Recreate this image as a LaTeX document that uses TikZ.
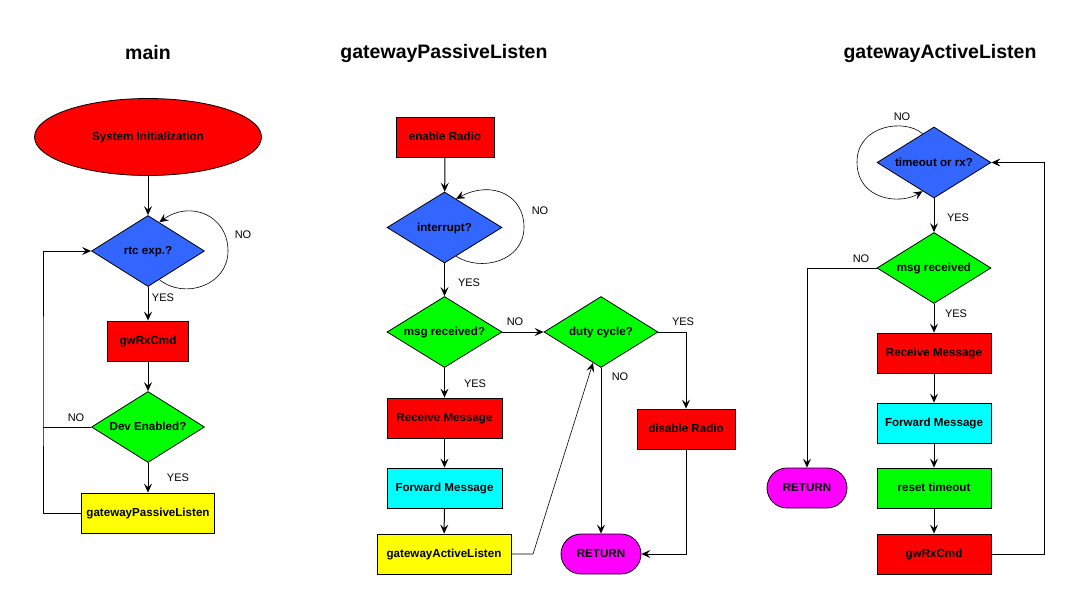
\documentclass[tikz,border=0pt]{standalone}
\usepackage{fontspec}
\setmainfont{Liberation Sans}
\usetikzlibrary{shapes.geometric,arrows.meta,calc}
\definecolor{fcred}{HTML}{FF0000}
\definecolor{fcblue}{HTML}{3366FF}
\definecolor{fcgreen}{HTML}{00FF00}
\definecolor{fccyan}{HTML}{00FFFF}
\definecolor{fcyellow}{HTML}{FFFF00}
\definecolor{fcpink}{HTML}{FF00FF}
\begin{document}
\begin{tikzpicture}[x=1pt, y=-1pt,
    txt/.style={font=\bfseries\fontsize{11.6}{13}\selectfont, text height=8.5pt, text depth=1.5pt},
    box/.style={draw, txt, line width=0.8pt, inner sep=0pt, minimum width=#1, minimum height=40pt},
    box/.default=115pt,
    decision/.style={diamond, draw, txt, line width=0.8pt, inner sep=0pt, aspect=1.6, minimum width=114pt, minimum height=71pt},
    pill/.style={draw, txt, line width=0.8pt, fill=fcpink, rounded corners=20pt, minimum width=80pt, minimum height=40pt},
    lbl/.style={font=\fontsize{11}{13}\selectfont},
    ttl/.style={font=\bfseries\fontsize{19.5}{22}\selectfont},
    flow/.style={line width=1pt, -{Stealth[length=9pt, width=8pt, inset=3.5pt]}},
    selfloop/.style={line width=0.6pt, -{Stealth[length=9pt, width=8pt, inset=3.5pt]}}]
    \fill[white] (0, 0) rectangle (1089, 590);
    % main
    \draw (148, 53) node (tmain) [ttl] {main}
          (148, 137) node (init) [ellipse, draw, txt, line width=0.8pt, fill=fcred, minimum width=227pt, minimum height=77pt] {System Initialization}
          (148, 251) node (rtc) [decision, fill=fcblue, minimum width=113pt] {rtc exp.?}
          (148, 341) node (gw) [box=81pt, fill=fcred] {gwRxCmd}
          (148, 427) node (dev) [decision, fill=fcgreen, minimum width=113pt] {Dev Enabled?}
          (148, 513) node (gpl) [box=133pt, fill=fcyellow] {gatewayPassiveListen};
    \coordinate (mbus) at (43, 380);
    \draw[flow] (init) edge (rtc)
                (rtc) edge (gw)
                (gw) edge (dev)
                (dev) edge (gpl);
    \draw[flow] (gpl.west) -| (mbus) |- (rtc.west);
    \draw[line width=1pt] (dev.west) -- (dev.west -| mbus);
    \draw[selfloop] ($(rtc.south)!.2!(rtc.east)$) .. controls (185, 300) and (228, 285) .. (228, 251)
                    .. controls (228, 215) and (190, 200) .. ($(rtc.north)!.2!(rtc.east)$);
    \draw (243, 235) node (lrtcno) [lbl] {NO}
          (163, 298) node (lrtcyes) [lbl] {YES}
          (76, 418) node (ldevno) [lbl] {NO}
          (178, 478) node (ldevyes) [lbl] {YES};
    % gatewayPassiveListen
    \draw (444, 53) node (tpass) [ttl] {gatewayPassiveListen}
          (445, 137) node (enr) [box=98pt, fill=fcred] {enable Radio}
          (444.5, 227.5) node (intr) [decision, fill=fcblue, minimum width=115pt] {interrupt?}
          (444.5, 332) node (mrx) [decision, fill=fcgreen, minimum width=115pt] {msg received?}
          (601, 332) node (duty) [decision, fill=fcgreen] {duty cycle?}
          (444.5, 418) node (rcv) [box, fill=fcred] {Receive Message}
          (444.5, 488) node (fwd) [box, fill=fccyan] {Forward Message}
          (444, 554) node (gal) [box=134pt, fill=fcyellow] {gatewayActiveListen}
          (686, 429) node (dis) [box=98pt, fill=fcred] {disable Radio}
          (601, 554) node (ret) [pill] {RETURN};
    \coordinate (pbend) at (533, 554);
    \draw[flow] (enr) edge (intr)
                (intr) edge (mrx)
                (mrx) edge (rcv)
                (rcv) edge (fwd)
                (fwd) edge (gal)
                (mrx) edge (duty)
                (duty) edge (ret);
    \draw[flow] (duty.east) -| (dis.north);
    \draw[flow] (dis.south) |- (ret.east);
    \draw[flow, line width=0.6pt] (gal.east) -- (pbend) -- ($(duty.south)!.14!(duty.west)$);
    \draw[selfloop] ($(intr.south)!.2!(intr.east)$) .. controls (480, 272) and (524, 262) .. (524, 227)
                    .. controls (524, 195) and (492, 180) .. ($(intr.north)!.2!(intr.east)$);
    \draw (540, 211) node (lintno) [lbl] {NO}
          (469, 283) node (lintyes) [lbl] {YES}
          (515, 322) node (lmrxno) [lbl] {NO}
          (475, 384) node (lmrxyes) [lbl] {YES}
          (683, 322) node (ldutyyes) [lbl] {YES}
          (620, 377) node (ldutyno) [lbl] {NO};
    % gatewayActiveListen
    \draw (940, 53) node (tact) [ttl] {gatewayActiveListen}
          (934, 162.5) node (tmo) [decision, fill=fcblue] {timeout or rx?}
          (934, 268) node (amrx) [decision, fill=fcgreen] {msg received}
          (934, 353) node (arcv) [box=114pt, fill=fcred] {Receive Message}
          (934, 423) node (afwd) [box=114pt, fill=fccyan] {Forward Message}
          (934, 488) node (rst) [box=114pt, fill=fcgreen] {reset timeout}
          (934, 554) node (agw) [box=114pt, fill=fcred] {gwRxCmd}
          (807, 488) node (aret) [pill] {RETURN};
    \coordinate (abus) at (1044, 350);
    \draw[flow] (tmo) edge (amrx)
                (amrx) edge (arcv)
                (arcv) edge (afwd)
                (afwd) edge (rst)
                (rst) edge (agw);
    \draw[flow] (amrx.west) -| (aret.north);
    \draw[flow] (agw.east) -| (abus) |- (tmo.east);
    \draw[selfloop] ($(tmo.north)!.2!(tmo.west)$) .. controls (905, 118) and (857, 125) .. (857, 162)
                    .. controls (857, 200) and (900, 205) .. ($(tmo.south)!.2!(tmo.west)$);
    \draw (902, 117) node (ltmono) [lbl] {NO}
          (958, 218) node (ltmoyes) [lbl] {YES}
          (861, 259) node (lamrxno) [lbl] {NO}
          (956, 314) node (lamrxyes) [lbl] {YES};
\end{tikzpicture}
\end{document}
